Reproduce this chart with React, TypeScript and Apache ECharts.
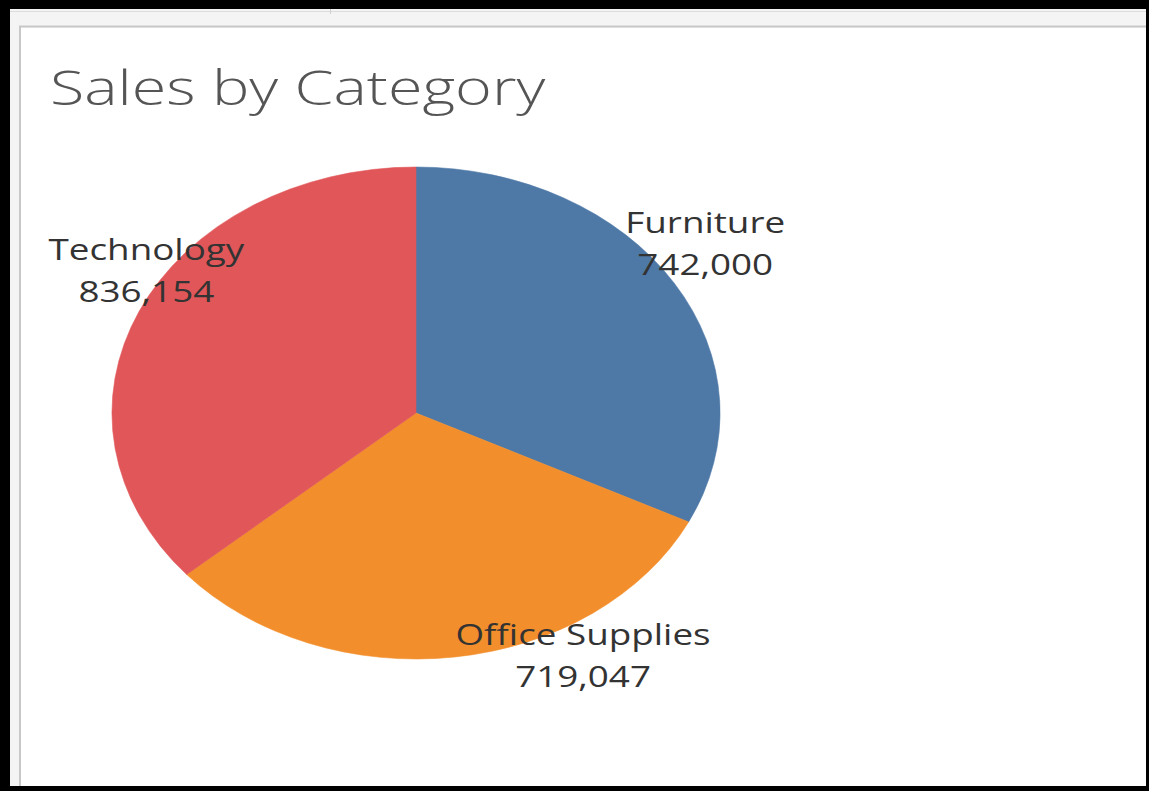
import React, { useEffect, useRef } from "react";
import * as echarts from "echarts";

const categories = ["Furniture", "Office Supplies", "Technology"];
const sales = [742000, 719047, 836154];
const colors = ["#4e79a7", "#f28e2b", "#e15759"];
const titleText = "Sales by Category";

// layout constants
const CX = 416;
const CY = 413;
const RY = 246;
const RX = 304;
const STRETCH = RX / RY;
const labelNudge = [
  [31, -40],
  [128, -2],
  [7, -41],
];

const fmt = (v: number) => v.toLocaleString("en-US");

export default function App() {
  const ref = useRef<HTMLDivElement>(null);
  useEffect(() => {
    const chart = echarts.init(ref.current!, null, { renderer: "svg" });
    const total = sales.reduce((a, b) => a + b, 0);
    const cum: number[] = [];
    sales.reduce((acc, v, i) => {
      cum[i] = acc;
      return acc + v;
    }, 0);
    chart.setOption({
      animation: false,
      backgroundColor: "#000",
      graphic: [
        { type: "rect", shape: { x: 10, y: 9, width: 1136, height: 777 }, style: { fill: "#f4f4f4" }, z: 0 },
        { type: "line", shape: { x1: 10, y1: 11.5, x2: 1146, y2: 11.5 }, style: { stroke: "#dcdcdc", lineWidth: 1 }, z: 1 },
        { type: "line", shape: { x1: 330.5, y1: 9, x2: 330.5, y2: 14 }, style: { stroke: "#d0d0d0", lineWidth: 1 }, z: 1 },
        { type: "line", shape: { x1: 19, y1: 26.5, x2: 1146, y2: 26.5 }, style: { stroke: "#c8c8c8", lineWidth: 2 }, z: 1 },
        { type: "line", shape: { x1: 20, y1: 26, x2: 20, y2: 786 }, style: { stroke: "#c8c8c8", lineWidth: 2 }, z: 1 },
        { type: "rect", shape: { x: 21, y: 28, width: 1125, height: 758 }, style: { fill: "#ffffff" }, z: 1 },
        {
          type: "text",
          x: 50,
          y: 86,
          z: 2,
          scaleX: 1.31,
          style: {
            text: titleText,
            font: "300 48px 'Open Sans', sans-serif",
            fill: "#555555",
            textVerticalAlign: "middle",
          },
        },
      ],
      series: [
        {
          type: "custom",
          coordinateSystem: "none",
          z: 3,
          data: sales.map((v, i) => ({ name: categories[i], value: [v] })),
          renderItem: (params: any, api: any) => {
            const i = params.dataIndex;
            const v = api.value(0);
            const a0 = (cum[i] / total) * Math.PI * 2;
            const a1 = ((cum[i] + v) / total) * Math.PI * 2;
            const mid = (a0 + a1) / 2;
            const ex = CX + RX * Math.sin(mid);
            const ey = CY - RY * Math.cos(mid);
            return {
              type: "group",
              children: [
                {
                  type: "sector",
                  x: CX,
                  y: CY,
                  scaleX: STRETCH,
                  scaleY: 1,
                  shape: {
                    cx: 0,
                    cy: 0,
                    r: RY,
                    r0: 0,
                    startAngle: a0 - Math.PI / 2,
                    endAngle: a1 - Math.PI / 2,
                    clockwise: true,
                  },
                  style: { fill: colors[i], stroke: colors[i], lineWidth: 0.5 },
                },
                {
                  type: "text",
                  x: ex + labelNudge[i][0],
                  y: ey + labelNudge[i][1],
                  scaleX: 1.27,
                  z2: 10,
                  style: {
                    text: `${categories[i]}\n${fmt(v)}`,
                    font: "29px 'Open Sans', sans-serif",
                    fill: "#333333",
                    align: "center",
                    verticalAlign: "middle",
                    lineHeight: 42,
                  },
                },
              ],
            };
          },
        },
      ],
    });
    return () => chart.dispose();
  }, []);
  return (
    <div
      ref={ref}
      style={{ position: "fixed", left: 0, top: 0, width: 1149, height: 791 }}
    />
  );
}
